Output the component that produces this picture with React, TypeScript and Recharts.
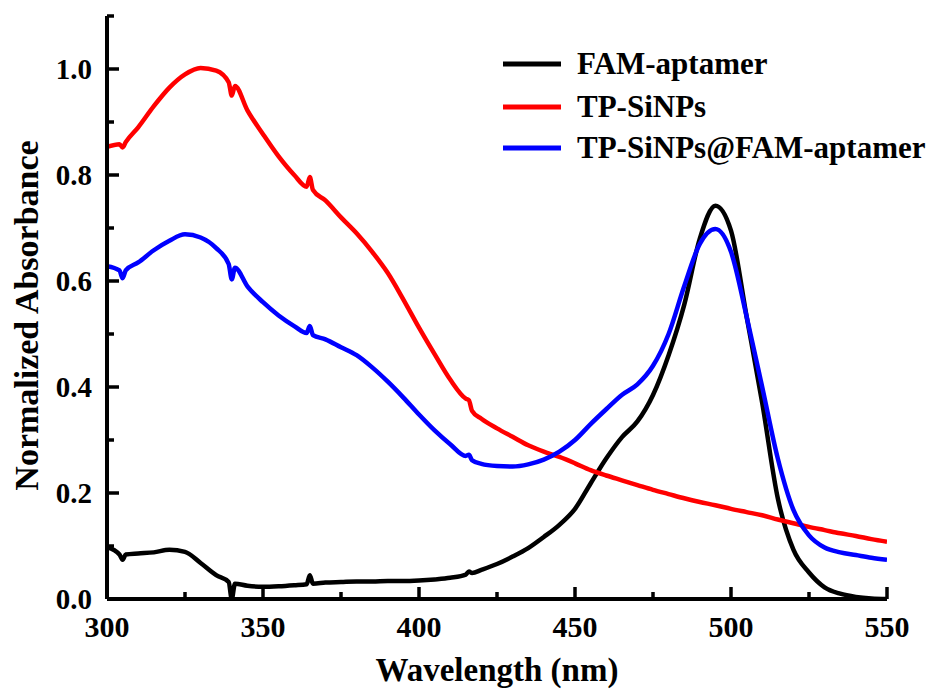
import * as React from "react";
import { LineChart, Line, XAxis, YAxis } from "recharts";

const wavelengths = [
  300, 304, 305, 306, 310, 315, 320, 325, 330, 335, 339, 340, 341, 345, 350,
  355, 360, 364, 365, 366, 370, 375, 380, 385, 390, 395, 400, 405, 410, 415,
  416, 417, 420, 425, 430, 435, 440, 445, 450, 455, 460, 465, 470, 475, 480,
  485, 490, 495, 500, 505, 510, 515, 520, 525, 530, 535, 540, 545, 550,
];

const famAptamer = [
  0.098, 0.084, 0.074, 0.084, 0.086, 0.088, 0.093, 0.089, 0.068, 0.045, 0.032,
  0.0, 0.029, 0.025, 0.023, 0.024, 0.026, 0.028, 0.045, 0.029, 0.031, 0.032,
  0.033, 0.033, 0.034, 0.034, 0.035, 0.037, 0.04, 0.046, 0.052, 0.049, 0.055,
  0.066, 0.08, 0.096, 0.117, 0.14, 0.17, 0.218, 0.265, 0.305, 0.335, 0.385,
  0.46, 0.555, 0.68, 0.742, 0.695, 0.533, 0.37, 0.19, 0.093, 0.05, 0.022, 0.01,
  0.004, 0.001, 0.0,
];

const tpSiNPs = [
  0.853, 0.858, 0.852, 0.862, 0.89, 0.93, 0.965, 0.99, 1.002, 0.997, 0.975,
  0.95, 0.968, 0.922, 0.877, 0.835, 0.8, 0.778, 0.796, 0.772, 0.752, 0.72,
  0.69, 0.655, 0.615, 0.565, 0.512, 0.462, 0.414, 0.378, 0.375, 0.355, 0.34,
  0.322, 0.306, 0.29, 0.278, 0.268, 0.256, 0.243, 0.233, 0.224, 0.215, 0.206,
  0.198, 0.19, 0.183, 0.177, 0.17, 0.164, 0.158, 0.15, 0.143, 0.136, 0.13,
  0.124, 0.119, 0.113, 0.108,
];

const tpSiNPsFam = [
  0.628, 0.62, 0.605, 0.62, 0.635, 0.658, 0.676, 0.688, 0.682, 0.662, 0.632,
  0.603, 0.625, 0.59, 0.56, 0.535, 0.515, 0.502, 0.515, 0.498, 0.49, 0.475,
  0.46, 0.437, 0.41, 0.38, 0.348, 0.318, 0.292, 0.27, 0.272, 0.262, 0.255,
  0.251, 0.25, 0.254, 0.263, 0.278, 0.3, 0.33, 0.358, 0.385, 0.405, 0.44, 0.5,
  0.59, 0.67, 0.698, 0.655, 0.533, 0.4, 0.265, 0.168, 0.12, 0.097, 0.088,
  0.083, 0.078, 0.074,
];

const xTicks = [300, 325, 350, 375, 400, 425, 450, 475, 500, 525, 550];
const yTicks = [0, 0.1, 0.2, 0.3, 0.4, 0.5, 0.6, 0.7, 0.8, 0.9, 1.0, 1.1];

const seriesNames = ["FAM-aptamer", "TP-SiNPs", "TP-SiNPs@FAM-aptamer"];
const seriesColors = ["#000000", "#ff0000", "#0000ff"];

const data = wavelengths.map((wl, i) => ({
  wl,
  fam: famAptamer[i],
  tp: tpSiNPs[i],
  tpFam: tpSiNPsFam[i],
}));

const FONT = "'Liberation Serif', 'Times New Roman', serif";

const XTick = (props: any) => {
  const { x, y, payload } = props;
  const major = payload.value % 50 === 0;
  return (
    <g>
      <line x1={x} x2={x} y1={y} y2={y - (major ? 12 : 7)} stroke="#000" strokeWidth={3.5} />
      {major && (
        <text x={x} y={y + 38} textAnchor="middle" fontFamily={FONT} fontWeight="bold" fontSize={30} fill="#000">
          {payload.value}
        </text>
      )}
    </g>
  );
};

const YTick = (props: any) => {
  const { x, y, payload } = props;
  const v = Math.round(payload.value * 10);
  const major = v % 2 === 0 && v <= 10;
  return (
    <g>
      <line x1={x} x2={x + (major ? 12 : 7)} y1={y} y2={y} stroke="#000" strokeWidth={3.5} />
      {major && (
        <text x={x - 15} y={y + 10} textAnchor="end" fontFamily={FONT} fontWeight="bold" fontSize={29} fill="#000">
          {payload.value.toFixed(1)}
        </text>
      )}
    </g>
  );
};

const XTitle = (props: any) => {
  const { viewBox } = props;
  return (
    <text x={viewBox.x + viewBox.width / 2} y={viewBox.y + 82} textAnchor="middle" fontFamily={FONT} fontWeight="bold" fontSize={33} fill="#000">
      Wavelength (nm)
    </text>
  );
};

const YTitle = (props: any) => {
  const { viewBox } = props;
  const cx = viewBox.x + 30;
  const cy = viewBox.y + viewBox.height / 2 + 8;
  return (
    <text x={cx} y={cy} transform={`rotate(-90, ${cx}, ${cy})`} textAnchor="middle" fontFamily={FONT} fontWeight="bold" fontSize={34} fill="#000">
      Normalized Absorbance
    </text>
  );
};

function LegendBox() {
  return (
    <svg width={440} height={130} style={{ position: "absolute", left: 487, top: 32 }}>
      {seriesNames.map((name, i) => {
        const cy = [24, 67, 108][i];
        return (
          <g key={name}>
            <line x1={8} x2={66} y1={cy} y2={cy} stroke={seriesColors[i]} strokeWidth={5} />
            <text x={82} y={cy + 10} fontFamily={FONT} fontWeight="bold" fontSize={31} fill="#000">
              {name}
            </text>
          </g>
        );
      })}
    </svg>
  );
}

export default function App() {
  return (
    <div style={{ position: "relative", width: 928, height: 687, background: "#fff" }}>
      <LineChart width={928} height={687} data={data} margin={{ top: 8, right: 49, bottom: 0, left: 0 }}>
        <XAxis
          dataKey="wl"
          type="number"
          domain={[300, 550]}
          ticks={xTicks}
          interval={0}
          height={96}
          tickSize={0}
          tickMargin={0}
          tickLine={false}
          tick={<XTick />}
          axisLine={{ stroke: "#000", strokeWidth: 4 }}
          label={<XTitle />}
          allowDataOverflow
        />
        <YAxis
          type="number"
          domain={[0, 1.1]}
          ticks={yTicks}
          interval={0}
          width={99}
          tickSize={0}
          tickMargin={0}
          tickLine={false}
          tick={<YTick />}
          axisLine={{ stroke: "#000", strokeWidth: 4 }}
          label={<YTitle />}
          allowDataOverflow
        />
        <Line dataKey="fam" name={seriesNames[0]} stroke={seriesColors[0]} strokeWidth={4.5} dot={false} type="monotone" strokeLinejoin="round" isAnimationActive={false} />
        <Line dataKey="tp" name={seriesNames[1]} stroke={seriesColors[1]} strokeWidth={4.5} dot={false} type="monotone" strokeLinejoin="round" isAnimationActive={false} />
        <Line dataKey="tpFam" name={seriesNames[2]} stroke={seriesColors[2]} strokeWidth={4.5} dot={false} type="monotone" strokeLinejoin="round" isAnimationActive={false} />
      </LineChart>
      <LegendBox />
    </div>
  );
}
